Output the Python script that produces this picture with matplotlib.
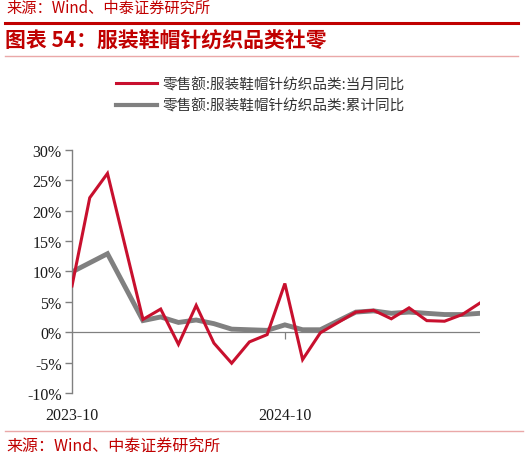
import matplotlib
matplotlib.use("Agg")
import matplotlib.pyplot as plt
from matplotlib.lines import Line2D
import pandas as pd

plt.rcParams['font.family'] = ['Noto Sans CJK SC', 'DejaVu Sans']

# ---- data ----
months = ['2023-10', '2023-11', '2023-12', '2024-02', '2024-03', '2024-04', '2024-05',
          '2024-06', '2024-07', '2024-08', '2024-09', '2024-10', '2024-11', '2024-12',
          '2025-02', '2025-03', '2025-04', '2025-05', '2025-06', '2025-07', '2025-08',
          '2025-09']
monthly_yoy = [7.6, 22.1, 26.1, 2.1, 3.8, -2.0, 4.4, -1.8, -5.1, -1.6, -0.4, 8.0, -4.5,
               -0.1, 3.3, 3.6, 2.2, 4.0, 1.9, 1.8, 2.9, 4.8]
cumulative_yoy = [9.9, 11.4, 12.9, 1.9, 2.5, 1.6, 2.0, 1.4, 0.5, 0.4, 0.3, 1.2, 0.4,
                  0.4, 3.3, 3.5, 3.1, 3.3, 3.1, 2.9, 2.9, 3.1]
series_names = ['零售额:服装鞋帽针纺织品类:当月同比', '零售额:服装鞋帽针纺织品类:累计同比']
tick_labels = ['2023-10', '2024-10']
yticks = [-10, -5, 0, 5, 10, 15, 20, 25, 30]
start, end = '2023-10', '2025-09'

title = '图表 54：服装鞋帽针纺织品类社零'
source = '来源：Wind、中泰证券研究所'

# ---- helpers ----
p0 = pd.Period(start, freq='M')
def midx(lbl):
    return (pd.Period(lbl, freq='M') - p0).n

x = [midx(m) for m in months]

W, H = 528, 460
fig = plt.figure(figsize=(W / 100, H / 100), dpi=100)

RED = '#C8102E'
GRAY = '#808080'
TITLE_RED = '#C00000'
PINK = '#EAA8A8'

ax = fig.add_axes([72 / W, 1 - 394 / H, (480 - 72) / W, (394 - 150.7) / H])
ax.plot(x, monthly_yoy, color=RED, lw=2.2, solid_joinstyle='miter', zorder=3,
        label=series_names[0])
ax.plot(x, cumulative_yoy, color=GRAY, lw=3.5, solid_joinstyle='miter', zorder=2,
        label=series_names[1])

ax.set_xlim(0, midx(end))
ax.set_ylim(-10, 30)
ax.axhline(0, color=GRAY, lw=0.9, zorder=1)
# small tick at 2024-10 on the zero line
ax.vlines(midx(tick_labels[1]), -1.2, 0, color=GRAY, lw=0.9, zorder=1)

for s in ['top', 'right', 'bottom']:
    ax.spines[s].set_visible(False)
ax.spines['left'].set_color(GRAY)
ax.spines['left'].set_linewidth(1.0)

ax.set_yticks(yticks)
ax.set_yticklabels([f'{v}%' for v in yticks])
ax.tick_params(axis='y', length=5, width=1.0, color=GRAY, pad=2.5)
ax.set_xticks([midx(t) for t in tick_labels])
ax.set_xticklabels(tick_labels)
ax.tick_params(axis='x', length=0, pad=10)
for lbl in ax.get_yticklabels() + ax.get_xticklabels():
    lbl.set_fontfamily(['Liberation Serif', 'DejaVu Serif'])
    lbl.set_fontsize(11.5)
    lbl.set_color('#1a1a1a')

# legend
handles = [Line2D([], [], color=RED, lw=2.2), Line2D([], [], color=GRAY, lw=3.0)]
fig.legend(handles, series_names, loc='upper left',
           bbox_to_anchor=(116 / W, 1 - 78 / H), frameon=False, borderpad=0,
           borderaxespad=0, handlelength=2.8, handletextpad=0.42, labelspacing=0.5,
           prop={'family': ['Noto Sans CJK SC', 'DejaVu Sans'], 'size': 10.5},
           labelcolor='#333333')

# header / footer decorations
fig.add_artist(Line2D([5 / W, 518 / W], [1 - 24 / H, 1 - 24 / H], color=TITLE_RED, lw=2.2,
                      transform=fig.transFigure))
fig.add_artist(Line2D([5 / W, 518 / W], [1 - 57 / H, 1 - 57 / H], color=PINK, lw=1.0,
                      transform=fig.transFigure))
fig.add_artist(Line2D([5 / W, 523 / W], [1 - 432 / H, 1 - 432 / H], color=PINK, lw=1.0,
                      transform=fig.transFigure))

fig.text(5 / W, 1 - 41.5 / H, title, color=TITLE_RED, fontsize=15, fontweight='bold',
         style='italic', va='center', ha='left')
fig.text(6 / W, 1 - 8.5 / H, source, color=TITLE_RED, fontsize=11, va='center', ha='left')
fig.text(6 / W, 1 - 447.5 / H, source, color=TITLE_RED, fontsize=11.5, va='center', ha='left')

fig.savefig('out.png', dpi=100)
